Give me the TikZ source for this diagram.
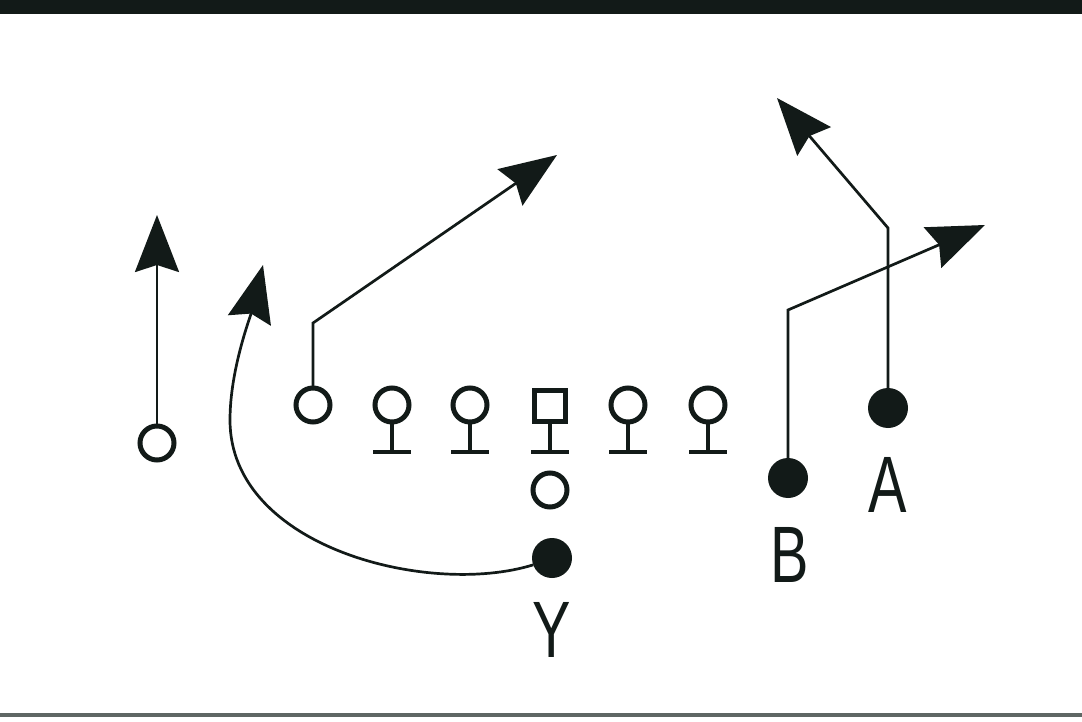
\documentclass[tikz,border=0pt]{standalone}
\usepackage{fontspec}
\setmainfont{Liberation Sans}
\usetikzlibrary{arrows.meta}
\definecolor{ink}{RGB}{18,26,24}
\definecolor{rule}{RGB}{95,103,100}
\begin{document}
\begin{tikzpicture}[x=1pt,y=-1pt,
  route/.style={draw=ink, line width=2.7pt, -{Stealth[length=57pt,width=44pt,inset=7pt]}},
  openp/.style={circle, draw=ink, line width=5pt, minimum size=34pt, inner sep=0pt, outer sep=0pt},
  fillp/.style={circle, fill=ink, minimum size=40pt, inner sep=0pt, outer sep=0pt},
  ctrbox/.style={rectangle, draw=ink, line width=5pt, minimum size=31pt, inner sep=0pt, outer sep=0pt},
  tee/.style={draw=ink, line width=4.5pt},
  lbl/.style={font=\fontsize{80}{80}\selectfont, inner sep=0pt, text=ink}]
\useasboundingbox (0,0) rectangle (1082,722);
\fill[white] (0,0) rectangle (1082,722);
\fill[ink] (0,0) rectangle (1082,14);
\draw[rule, line width=4pt] (0,715) -- (1082,715);

% offense
\node[openp] (L) at (157,443) {};
\node[openp] (E) at (313,405) {};
\node[openp] (G1) at (392,405) {};
\node[openp] (G2) at (470,405) {};
\node[ctrbox] (C) at (550,406) {};
\node[openp] (G3) at (628,405) {};
\node[openp] (G4) at (708,405) {};
\node[openp] (Q) at (550,490) {};
\node[fillp] (Y) at (552,558) {};
\node[fillp] (B) at (788,478) {};
\node[fillp] (A) at (888,408) {};

\node[lbl] (Yl) at (552,630) {\scalebox{0.72}[1]{Y}};
\node[lbl] (Bl) at (790,555) {\scalebox{0.72}[1]{B}};
\node[lbl] (Al) at (888,485) {\scalebox{0.72}[1]{A}};

% stances
\foreach \n/\x in {G1/392,G2/470,C/550,G3/628,G4/708} {
  \draw[tee] (\n.south) -- (\x,452);
  \draw[tee] (\x-19,452) -- (\x+19,452);
}

% routes
\coordinate (Ltip) at (157,215);
\draw[route] (L) -- (Ltip);

\coordinate (Ec) at (313,323);
\coordinate (Etip) at (557,155);
\draw[route] (E) -- (Ec) -- (Etip);

\coordinate (Ac) at (888,228);
\coordinate (Atip) at (777,98);
\draw[route] (A) -- (Ac) -- (Atip);

\coordinate (Bc) at (788,310);
\coordinate (Btip) at (985,225);
\draw[route] (B) -- (Bc) -- (Btip);

\coordinate (Ym) at (230,420);
\coordinate (Ytip) at (263,265);
\draw[route] (Y.200) .. controls (430,597) and (230,548) .. (Ym)
  .. controls (230,370) and (250,318) .. (Ytip);
\end{tikzpicture}
\end{document}
